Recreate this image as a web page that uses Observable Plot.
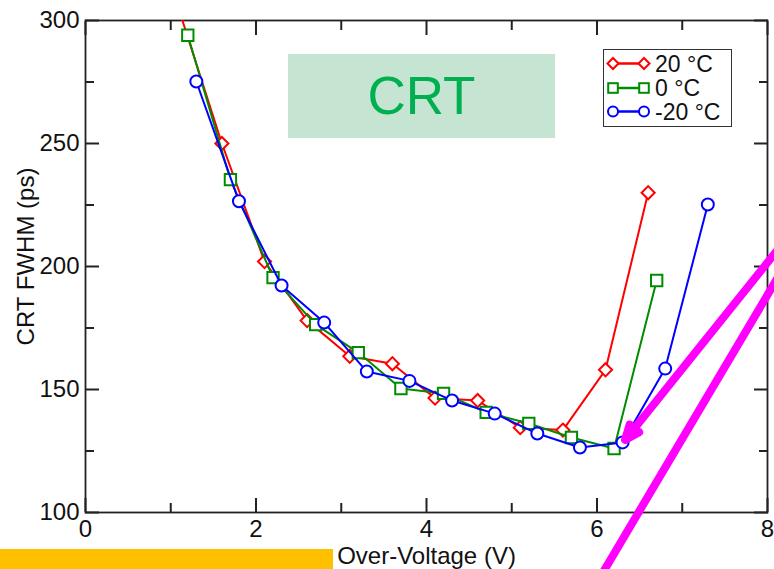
<!DOCTYPE html>
<html><head><meta charset="utf-8">
<script src="https://cdn.jsdelivr.net/npm/d3@7"></script>
<script src="https://cdn.jsdelivr.net/npm/@observablehq/plot@0.6"></script>
<style>
html,body{margin:0;padding:0;background:#fff;overflow:hidden;}
#wrap{position:relative;width:774px;height:569px;font-family:"Liberation Sans",Arial,Helvetica,sans-serif;}
#wrap svg{display:block;}
.crt{position:absolute;left:288px;top:54px;width:267px;height:84px;background:#c5e5d2;color:#00b050;font-size:53px;text-align:center;line-height:84px;z-index:1;}
.orange{position:absolute;left:0;top:549px;width:333px;height:20px;background:#ffc000;z-index:1;}
.legend{position:absolute;left:603px;top:49px;width:127px;height:76px;border:1.5px solid #333;background:#fff;z-index:2;}
.plotbox{position:absolute;left:0;top:0;z-index:3;}
</style></head><body><div id="wrap"></div>
<script>
// ---- data ----
const seriesNames = ["20 °C", "0 °C", "-20 °C"];
const seriesColors = ["#ff0000", "#008c00", "#0000ff"];
const seriesSymbols = ["diamond2", "square", "circle"];

const voltage20 = [1.1, 1.6, 2.1, 2.6, 3.1, 3.6, 4.1, 4.6, 5.1, 5.6, 6.1, 6.6];
const fwhm20    = [304, 250, 202, 178, 163.5, 160.5, 146.5, 145.5, 134.5, 133.5, 158, 230];

const voltage0 = [1.2, 1.7, 2.2, 2.7, 3.2, 3.7, 4.2, 4.7, 5.2, 5.7, 6.2, 6.7];
const fwhm0    = [294, 235.3, 195.5, 176.4, 165, 150.4, 148.4, 140.7, 136.2, 130.5, 126, 194.3];

const voltageM20 = [1.3, 1.8, 2.3, 2.8, 3.3, 3.8, 4.3, 4.8, 5.3, 5.8, 6.3, 6.8, 7.3];
const fwhmM20    = [275.2, 226.5, 192.3, 177.2, 157.3, 153.5, 145.5, 140.2, 132.1, 126.4, 128.5, 158.5, 225.2];

const xMajorTicks = [0, 2, 4, 6, 8];
const xMinorTicks = [1, 3, 5, 7];
const yMajorTicks = [100, 150, 200, 250, 300];
const yMinorTicks = [125, 175, 225, 275];

// annotation strokes (data units)
const arrowX = [8.3, 6.33];
const arrowY = [214.6, 129.5];
const slashX = [8.3, 5.9];
const slashY = [206, 65.7];

// ---- build tables ----
const allV = [voltage20, voltage0, voltageM20];
const allF = [fwhm20, fwhm0, fwhmM20];
const series = seriesNames.map((name, i) => allV[i].map((v, j) => ({name, v, f: allF[i][j]})));

const xDom = [0, 8], yDom = [100, 300];
const tickStroke = "#222";
const MAJ = 14, MIN = 9;

const marks = [];
series.forEach((rows, i) => {
  marks.push(Plot.line(rows, {x: "v", y: "f", stroke: seriesColors[i], strokeWidth: 2, clip: true}));
  marks.push(Plot.dot(rows, {x: "v", y: "f", stroke: seriesColors[i], fill: "white", strokeWidth: 2,
    symbol: seriesSymbols[i], r: i === 0 ? 5.9 : (i === 1 ? 6.4 : 6), clip: true}));
});

// inward tick marks on all four sides (negative tick size points into the frame)
const noLabel = () => "";
const inward = [];
["bottom", "top"].forEach(anchor => {
  inward.push(Plot.axisX({anchor, ticks: xMajorTicks, tickSize: -MAJ, tickFormat: noLabel, label: null, stroke: tickStroke, strokeWidth: 2}));
  inward.push(Plot.axisX({anchor, ticks: xMinorTicks, tickSize: -MIN, tickFormat: noLabel, label: null, stroke: tickStroke, strokeWidth: 2}));
});
["left", "right"].forEach(anchor => {
  inward.push(Plot.axisY({anchor, ticks: yMajorTicks, tickSize: -MAJ, tickFormat: noLabel, label: null, stroke: tickStroke, strokeWidth: 2}));
  inward.push(Plot.axisY({anchor, ticks: yMinorTicks, tickSize: -MIN, tickFormat: noLabel, label: null, stroke: tickStroke, strokeWidth: 2}));
});

const chart = Plot.plot({
  width: 774, height: 569,
  marginLeft: 85, marginRight: 7, marginTop: 20, marginBottom: 57,
  x: {domain: xDom},
  y: {domain: yDom},
  style: {fontFamily: '"Liberation Sans", Arial, Helvetica, sans-serif', background: "transparent", color: "#111"},
  marks: [
    Plot.axisX({ticks: xMajorTicks, tickSize: 0, tickPadding: 7, fontSize: 24, label: null, tickFormat: d => String(d)}),
    Plot.axisY({ticks: yMajorTicks, tickSize: 0, tickPadding: 6, fontSize: 24, label: null, tickFormat: d => String(d)}),
    ...inward,
    Plot.frame({stroke: tickStroke, strokeWidth: 1.8}),
    ...marks,
    Plot.text(["CRT FWHM (ps)"], {frameAnchor: "left", textAnchor: "middle", dx: -59, dy: -10, rotate: -90, fontSize: 24, fill: "#111"}),
    Plot.text(["Over-Voltage (V)"], {frameAnchor: "bottom", lineAnchor: "top", dy: 34, fontSize: 24, fill: "#111"}),
    Plot.arrow([0], {x1: () => arrowX[0], y1: () => arrowY[0], x2: () => arrowX[1], y2: () => arrowY[1],
      stroke: "#ff00ff", strokeWidth: 8, headLength: 3, headAngle: 45}),
    Plot.link([0], {x1: () => slashX[0], y1: () => slashY[0], x2: () => slashX[1], y2: () => slashY[1],
      stroke: "#ff00ff", strokeWidth: 8})
  ]
});

const wrap = document.getElementById("wrap");
const crt = document.createElement("div"); crt.className = "crt"; crt.textContent = "CRT"; wrap.appendChild(crt);
const orange = document.createElement("div"); orange.className = "orange"; wrap.appendChild(orange);
const box = document.createElement("div"); box.className = "plotbox"; box.appendChild(chart); wrap.appendChild(box);

// legend
const legend = document.createElement("div"); legend.className = "legend";
const ns = "http://www.w3.org/2000/svg";
const lsvg = document.createElementNS(ns, "svg");
lsvg.setAttribute("width", 127); lsvg.setAttribute("height", 76);
lsvg.style.fontFamily = '"Liberation Sans", Arial, sans-serif';
const rowY = [13.5, 38, 61.5];
seriesNames.forEach((name, i) => {
  const y = rowY[i], c = seriesColors[i];
  const ln = document.createElementNS(ns, "line");
  ln.setAttribute("x1", 9); ln.setAttribute("x2", 40); ln.setAttribute("y1", y); ln.setAttribute("y2", y);
  ln.setAttribute("stroke", c); ln.setAttribute("stroke-width", 2.5); lsvg.appendChild(ln);
  [9, 40].forEach(x => {
    let el;
    if (i === 0) { el = document.createElementNS(ns, "path"); el.setAttribute("d", `M${x},${y-5.5}L${x+5.5},${y}L${x},${y+5.5}L${x-5.5},${y}Z`); }
    else if (i === 1) { el = document.createElementNS(ns, "rect"); el.setAttribute("x", x-4.8); el.setAttribute("y", y-4.8); el.setAttribute("width", 9.6); el.setAttribute("height", 9.6); }
    else { el = document.createElementNS(ns, "circle"); el.setAttribute("cx", x); el.setAttribute("cy", y); el.setAttribute("r", 5); }
    el.setAttribute("fill", "white"); el.setAttribute("stroke", c); el.setAttribute("stroke-width", 2);
    lsvg.appendChild(el);
  });
  const t = document.createElementNS(ns, "text");
  t.setAttribute("x", 51); t.setAttribute("y", y + 8); t.setAttribute("font-size", 23); t.setAttribute("fill", "#111");
  t.textContent = name; lsvg.appendChild(t);
});
legend.appendChild(lsvg);
wrap.appendChild(legend);
</script></body></html>
